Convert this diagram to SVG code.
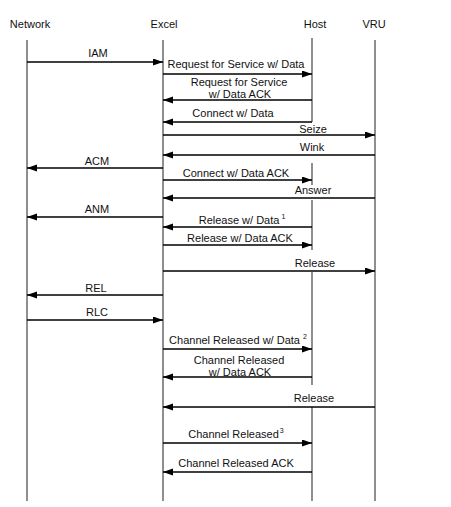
<svg xmlns="http://www.w3.org/2000/svg" width="451" height="507" viewBox="0 0 451 507">
<defs>
<marker id="ah" markerUnits="userSpaceOnUse" markerWidth="11" markerHeight="8" refX="10" refY="3.5" orient="auto">
<path d="M0,0 L10,3.5 L0,7 z" fill="#000"/>
</marker>
<style>
text{font-family:"Liberation Sans",Arial,sans-serif;font-size:11px;fill:#111;text-anchor:middle}
.life{stroke:#333;stroke-width:1.1;fill:none}
.msg{stroke:#000;stroke-width:1.4;fill:none;marker-end:url(#ah)}
.sup{font-size:7px}
</style>
</defs>
<rect width="451" height="507" fill="#fff"/>
<g id="network">
<text x="30" y="28">Network</text>
<line class="life" x1="27" y1="40" x2="27" y2="501"/>
</g>
<g id="excel">
<text x="164" y="28">Excel</text>
<line class="life" x1="163" y1="40" x2="163" y2="501"/>
</g>
<g id="host">
<text x="315" y="28">Host</text>
<path class="life" d="M312,38V122M312,163V185M312,200V250M312,272V385M312,407V501"/>
</g>
<g id="vru">
<text x="374" y="28">VRU</text>
<line class="life" x1="375" y1="40" x2="375" y2="501"/>
</g>
<g id="connectors">
<line class="msg" x1="27" y1="62" x2="163" y2="62"/>
<text x="98" y="57">IAM</text>
<line class="msg" x1="163" y1="74" x2="312" y2="74"/>
<text x="236" y="68">Request for Service w/ Data</text>
<line class="msg" x1="312" y1="100" x2="163" y2="100"/>
<text x="239" y="86">Request for Service</text>
<text x="240" y="98">w/ Data ACK</text>
<line class="msg" x1="312" y1="122" x2="163" y2="122"/>
<text x="233" y="117">Connect w/ Data</text>
<line class="msg" x1="163" y1="135" x2="375" y2="135"/>
<text x="313" y="133">Seize</text>
<line class="msg" x1="375" y1="155" x2="163" y2="155"/>
<text x="312" y="151">Wink</text>
<line class="msg" x1="163" y1="168" x2="27" y2="168"/>
<text x="97" y="165">ACM</text>
<line class="msg" x1="163" y1="180" x2="312" y2="180"/>
<text x="236" y="177">Connect w/ Data ACK</text>
<line class="msg" x1="375" y1="198" x2="163" y2="198"/>
<text x="313" y="194">Answer</text>
<line class="msg" x1="163" y1="217" x2="27" y2="217"/>
<text x="97" y="213">ANM</text>
<line class="msg" x1="312" y1="227" x2="163" y2="227"/>
<text x="242" y="224">Release w/ Data<tspan class="sup" dx="2" dy="-5">1</tspan></text>
<line class="msg" x1="163" y1="245" x2="312" y2="245"/>
<text x="240" y="242">Release w/ Data ACK</text>
<line class="msg" x1="163" y1="271" x2="375" y2="271"/>
<text x="315" y="267">Release</text>
<line class="msg" x1="163" y1="295" x2="27" y2="295"/>
<text x="96" y="292">REL</text>
<line class="msg" x1="27" y1="320" x2="163" y2="320"/>
<text x="97" y="316">RLC</text>
<line class="msg" x1="163" y1="349" x2="312" y2="349"/>
<text x="238" y="344">Channel Released w/ Data <tspan class="sup" dy="-5">2</tspan></text>
<line class="msg" x1="312" y1="377" x2="163" y2="377"/>
<text x="239" y="364">Channel Released</text>
<text x="240" y="376">w/ Data ACK</text>
<line class="msg" x1="375" y1="407" x2="163" y2="407"/>
<text x="314" y="402">Release</text>
<line class="msg" x1="163" y1="443" x2="312" y2="443"/>
<text x="236" y="438">Channel Released<tspan class="sup" dx="1" dy="-5">3</tspan></text>
<line class="msg" x1="312" y1="472" x2="163" y2="472"/>
<text x="236" y="467">Channel Released ACK</text>
</g>
</svg>
